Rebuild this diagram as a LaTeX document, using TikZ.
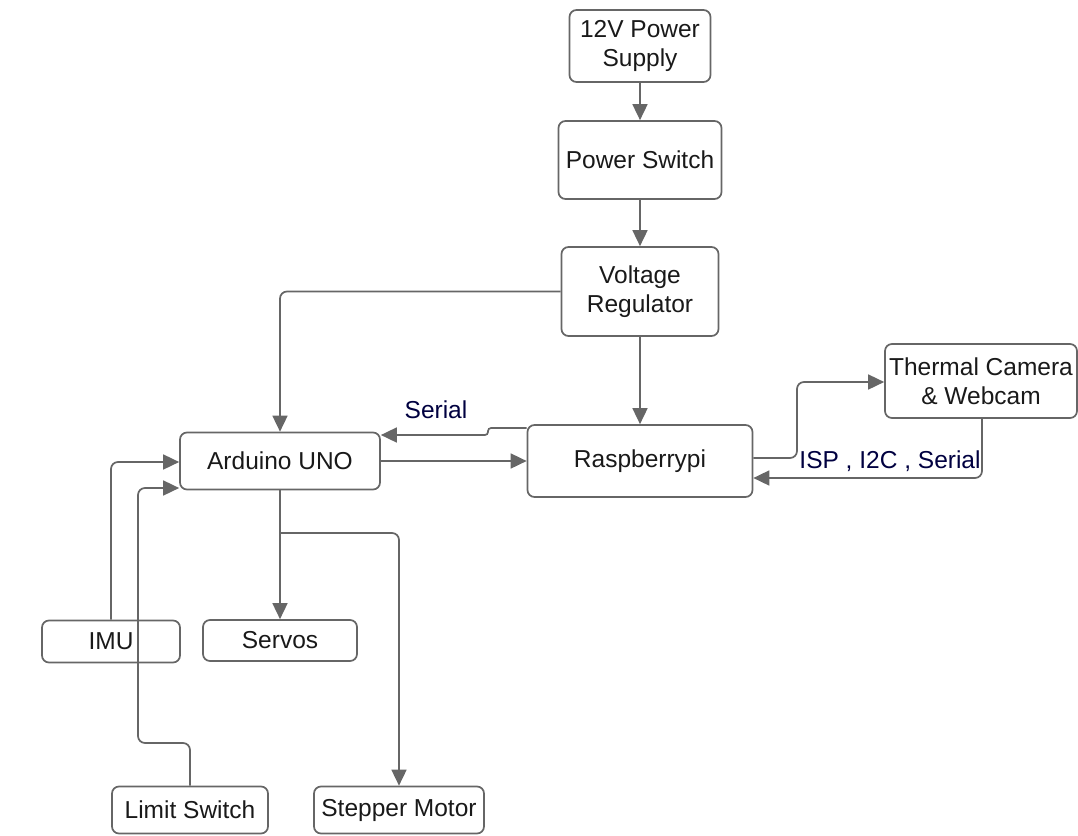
\documentclass[tikz,border=0pt]{standalone}
\usepackage{fontspec}
\setmainfont{Liberation Sans}
\usetikzlibrary{arrows.meta}
\begin{document}
\begin{tikzpicture}[x=1pt,y=-1pt,
  box/.style={draw=black!60, line width=1.7pt, rounded corners=7pt, inner sep=0pt, align=center,
    font=\fontsize{24.5}{29}\selectfont, text=black!90},
  arr/.style={draw=black!60, line width=1.7pt, rounded corners=7pt,
    -{Triangle[length=16pt,width=15pt]}},
  lbl/.style={font=\fontsize{24.5}{29}\selectfont, text=blue!25!black, inner sep=1pt}]
\useasboundingbox (0,0) rectangle (1078,835);
% nodes
\node[box, minimum width=141pt, minimum height=72pt] (ps) at (640,46) {12V Power\\Supply};
\node[box, minimum width=163pt, minimum height=78pt] (sw) at (640,160) {Power Switch};
\node[box, minimum width=157pt, minimum height=89pt] (vr) at (640,291.5) {Voltage\\Regulator};
\node[box, minimum width=225pt, minimum height=72pt] (rpi) at (640,461) {Raspberrypi};
\node[box, minimum width=200pt, minimum height=57pt] (ard) at (280,461) {Arduino UNO};
\node[box, minimum width=192pt, minimum height=74pt] (cam) at (981,381) {Thermal Camera\\\& Webcam};
\node[box, minimum width=138pt, minimum height=42pt] (imu) at (111,641.5) {IMU};
\node[box, minimum width=154pt, minimum height=41pt] (srv) at (280,640.5) {Servos};
\node[box, minimum width=156pt, minimum height=47pt] (lim) at (190,810) {Limit Switch};
\node[box, minimum width=170pt, minimum height=47pt] (stp) at (399,810) {Stepper Motor};
% coordinates
\coordinate (serA) at (488,428);
\coordinate (serB) at (488,435);
\coordinate (camA) at (797,458);
\coordinate (camB) at (797,382);
\coordinate (retA) at (982,478);
\coordinate (stA) at (280,533);
\coordinate (stB) at (399,533);
\coordinate (imuA) at (111,462);
\coordinate (limA) at (190,743);
\coordinate (limB) at (138,743);
\coordinate (limC) at (138,488);
% connectors
\draw[arr] (ps) -- (sw);
\draw[arr] (sw) -- (vr);
\draw[arr] (vr) -- (rpi);
\draw[arr] (vr.west) -| (ard.north);
\draw[arr, rounded corners=3pt] (rpi.west |- serA) -- (serA) -- (serB) -- (ard.east |- serB);
\node[lbl] (serlbl) at (436,410) {Serial};
\draw[arr] (ard.east) -- (rpi.west);
\draw[arr] (rpi.east |- camA) -- (camA) -- (camB) -- (cam.west |- camB);
\draw[arr] (cam.south -| retA) -- (retA) -- (rpi.east |- retA);
\node[lbl] (isplbl) at (890,461) {ISP , I2C , Serial};
\draw[arr] (ard.south) -- (srv.north);
\draw[arr] (stA) -- (stB) -- (stp.north);
\draw[arr] (imu.north) -- (imuA) -- (ard.west |- imuA);
\draw[arr] (lim.north) -- (limA) -- (limB) -- (limC) -- (ard.west |- limC);
\end{tikzpicture}
\end{document}
